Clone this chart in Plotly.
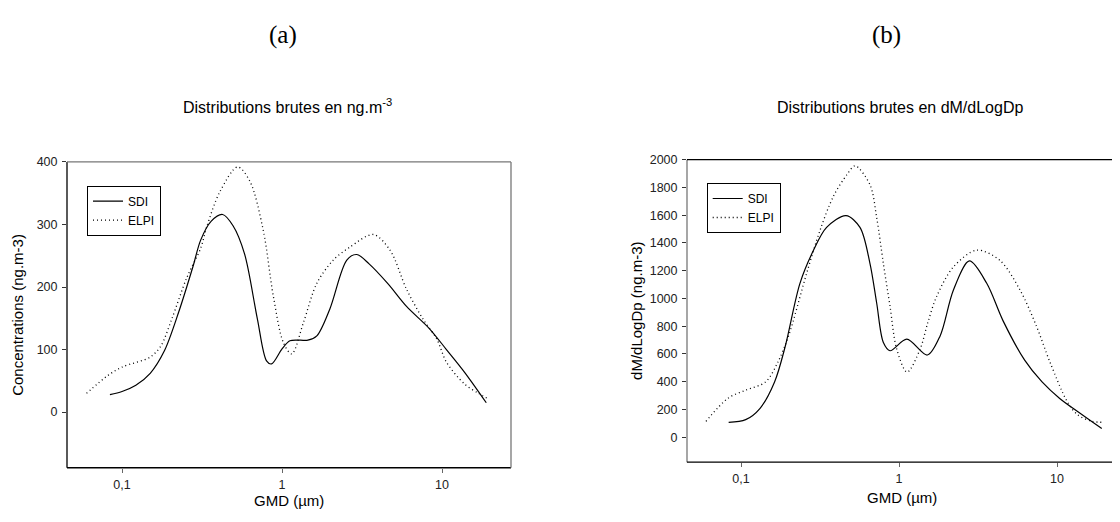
import plotly.graph_objects as go

# ---------------- data ----------------
gmd_sdi_a = [0.084, 0.100, 0.122, 0.150, 0.184, 0.226, 0.277, 0.31, 0.36, 0.425, 0.494, 0.583, 0.70, 0.80,
             0.86, 1.0, 1.12, 1.30, 1.45, 1.65, 1.99, 2.54, 2.93, 3.5, 4.6, 6.0, 8.3, 10.65, 13.8, 18.9]
sdi_a = [28, 33, 43, 62, 98, 160, 232, 275, 305, 316, 298, 253, 150, 82,
         77, 101, 114, 115, 115, 122, 165, 243, 252, 237, 205, 169, 134, 100, 64, 15]

gmd_elpi_a = [0.060, 0.081, 0.100, 0.150, 0.175, 0.204, 0.254, 0.31, 0.338, 0.41, 0.528, 0.63, 0.764, 0.883,
              1.02, 1.15, 1.36, 1.65, 2.09, 2.66, 3.72, 4.73, 6.01, 7.64, 9.27, 10.65, 13.8, 16.9, 19.2]
elpi_a = [30, 58, 72, 88, 106, 148, 215, 262, 296, 353, 392, 369, 290, 185,
          111, 93, 143, 206, 243, 264, 284, 259, 196, 148, 117, 80, 45, 30, 22]

gmd_sdi_b = [0.0835, 0.107, 0.132, 0.163, 0.19, 0.236, 0.287, 0.348, 0.462, 0.566, 0.655, 0.722, 0.796,
             0.877, 1.12, 1.51, 1.82, 2.21, 2.79, 3.59, 4.55, 6.24, 8.04, 10.4, 13.5, 19.2]
sdi_b = [107, 126, 208, 398, 650, 1109, 1345, 1512, 1597, 1512, 1251, 967, 682,
         623, 706, 592, 730, 1061, 1270, 1109, 840, 555, 398, 279, 185, 62]

gmd_elpi_b = [0.060, 0.0826, 0.107, 0.143, 0.171, 0.2, 0.26, 0.316, 0.384, 0.467, 0.527, 0.655, 0.722,
              0.796, 0.877, 0.967, 1.125, 1.36, 1.52, 1.73, 2.21, 3.1, 4.35, 5.83, 7.35, 9.03, 11.6,
              13.5, 16.7, 20.0]
elpi_b = [114, 280, 339, 398, 540, 730, 1180, 1490, 1735, 1891, 1956, 1819, 1583,
          1251, 943, 635, 469, 635, 824, 1014, 1227, 1348, 1274, 1061, 810, 540, 256,
          161, 114, 107]

xtick_vals = [0.1, 1, 10]
xtick_text = ["0,1", "1", "10"]
ytick_a = [0, 100, 200, 300, 400]
ytick_b = list(range(0, 2001, 200))

# ---------------- figure ----------------
OFF = 8  # page body margin
W, H = 1120 - OFF, 522 - OFF
fig = go.Figure()

def px_x(p):
    return (p - OFF) / W

def px_y(p):
    return 1 - (p - OFF) / H

dom_a_x = [px_x(67), px_x(511)]
dom_a_y = [px_y(467), px_y(157)]
dom_b_x = [px_x(687), px_x(1118)]
dom_b_y = [px_y(461.3), px_y(154.7)]

line_solid = dict(color="black", width=1.2, shape="spline", smoothing=0.9)
line_dot = dict(color="black", width=1.3, dash="1px,3px", shape="spline", smoothing=0.9)

fig.add_trace(go.Scatter(x=gmd_sdi_a, y=sdi_a, mode="lines", name="SDI", line=line_solid,
                         xaxis="x", yaxis="y", legend="legend"))
fig.add_trace(go.Scatter(x=gmd_elpi_a, y=elpi_a, mode="lines", name="ELPI", line=line_dot,
                         xaxis="x", yaxis="y", legend="legend"))
fig.add_trace(go.Scatter(x=gmd_sdi_b, y=sdi_b, mode="lines", name="SDI", line=line_solid,
                         xaxis="x2", yaxis="y2", legend="legend2"))
fig.add_trace(go.Scatter(x=gmd_elpi_b, y=elpi_b, mode="lines", name="ELPI", line=line_dot,
                         xaxis="x2", yaxis="y2", legend="legend2"))

tickfont = dict(family="Liberation Sans, Arial, sans-serif", size=12.5, color="#222")
common_x = dict(type="log", tickvals=xtick_vals, ticktext=xtick_text, ticks="outside", ticklen=4,
                tickcolor="#666", tickwidth=1, showgrid=False, zeroline=False, showline=False,
                tickfont=tickfont, ticklabelstandoff=1)
common_y = dict(ticks="outside", ticklen=4, tickcolor="#333", tickwidth=1, showgrid=False,
                zeroline=False, showline=False, tickfont=tickfont, ticklabelstandoff=2)

fig.update_layout(
    width=W, height=H,
    margin=dict(l=0, r=0, t=0, b=0),
    paper_bgcolor="white", plot_bgcolor="white",
    font=dict(family="Liberation Sans, Arial, sans-serif", size=12, color="black"),
    xaxis=dict(domain=dom_a_x, range=[-1.344, 1.431], anchor="y", **common_x),
    yaxis=dict(domain=dom_a_y, range=[-89, 400], anchor="x", tickvals=ytick_a, **common_y),
    xaxis2=dict(domain=dom_b_x, range=[-1.342, 1.386], anchor="y2", **common_x),
    yaxis2=dict(domain=dom_b_y, range=[-180, 2000], anchor="x2", tickvals=ytick_b, **common_y),
    legend=dict(x=px_x(87), y=px_y(181), xanchor="left", yanchor="top", bgcolor="white",
                bordercolor="black", borderwidth=1, font=dict(size=12), itemwidth=30,
                tracegroupgap=0),
    legend2=dict(x=px_x(706.7), y=px_y(178.3), xanchor="left", yanchor="top", bgcolor="white",
                 bordercolor="black", borderwidth=1, font=dict(size=12), itemwidth=30,
                 tracegroupgap=0),
)

# frames
def frame(xr, yr, left_c, bottom_c, top_c, right_c):
    specs = [
        (0, 0, 0, 1, left_c),
        (0, 0, 1, 0, bottom_c),
        (0, 1, 1, 1, top_c),
        (1, 0, 1, 1, right_c),
    ]
    for x0, y0, x1, y1, c in specs:
        fig.add_shape(type="line", xref=f"{xr} domain", yref=f"{yr} domain",
                      x0=x0, y0=y0, x1=x1, y1=y1, line=dict(color=c, width=1.3))

frame("x", "y", "black", "black", "#777", "#777")
frame("x2", "y2", "#777", "black", "black", "#777")

# texts
serif = dict(family="Liberation Serif, Times New Roman, serif", size=25, color="black")
title_font = dict(family="Liberation Sans, Arial, sans-serif", size=16, color="black")
lab_font = dict(family="Liberation Sans, Arial, sans-serif", size=15, color="black")

def ann(text, x, y, font, angle=0):
    fig.add_annotation(text=text, x=px_x(x), y=px_y(y), xref="paper", yref="paper",
                       showarrow=False, font=font, textangle=angle,
                       xanchor="center", yanchor="middle")

ann("(a)", 283, 28, serif)
ann("(b)", 886, 28, serif)
ann("Distributions brutes en ng.m<sup>-3</sup>", 287, 100, title_font)
ann("Distributions brutes en dM/dLogDp", 900, 102, title_font)
ann("Concentrations (ng.m-3)", 18, 312, lab_font, angle=-90)
ann("dM/dLogDp (ng.m-3)", 637, 308, lab_font, angle=-90)
ann("GMD (µm)", 289, 500, lab_font)
ann("GMD (µm)", 902, 497, lab_font)

fig.write_html("out.html")
